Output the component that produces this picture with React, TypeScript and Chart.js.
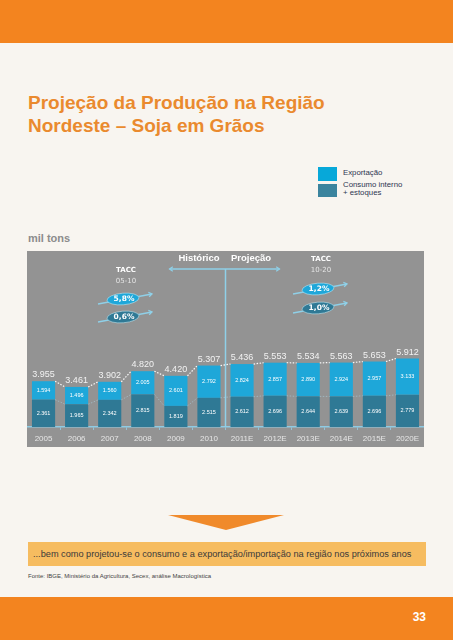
import React, { useEffect, useRef } from "react";
import { Chart, registerables } from "chart.js";

Chart.register(...registerables);

const categories = ["2005", "2006", "2007", "2008", "2009", "2010", "2011E", "2012E", "2013E", "2014E", "2015E", "2020E"];
const consumoInterno = [2361, 1965, 2342, 2815, 1819, 2515, 2612, 2696, 2644, 2639, 2696, 2779];
const exportacao = [1594, 1496, 1560, 2005, 2601, 2792, 2824, 2857, 2890, 2924, 2957, 3133];
const totais = [3955, 3461, 3902, 4820, 4420, 5307, 5436, 5553, 5534, 5563, 5653, 5912];
const taccHistLabel = ["TACC", "05-10"];
const taccHist = ["5,8%", "0,6%"];
const taccProjLabel = ["TACC", "10-20"];
const taccProj = ["1,2%", "1,0%"];
const periodLabels = ["Histórico", "Projeção"];

const LIGHT = "#1ea7d9";
const DARK = "#2f7995";
const ARROW = "#8fd0e8";

const fmt = (v: number) => String(v).replace(/\B(?=(\d{3})+(?!\d))/g, ".");

function arrowHead(ctx: CanvasRenderingContext2D, x: number, y: number, ang: number, len = 4) {
  ctx.beginPath();
  ctx.moveTo(x - len * Math.cos(ang - 0.6), y - len * Math.sin(ang - 0.6));
  ctx.lineTo(x, y);
  ctx.lineTo(x - len * Math.cos(ang + 0.6), y - len * Math.sin(ang + 0.6));
  ctx.stroke();
}

function taccGroup(ctx: CanvasRenderingContext2D, cx: number, y0: number, labels: string[], vals: string[], e1y: number, e2y: number) {
  ctx.textAlign = "center";
  ctx.textBaseline = "middle";
  ctx.fillStyle = "#ffffff";
  ctx.font = 'bold 7px "DejaVu Sans"';
  ctx.fillText(labels[0], cx, y0);
  ctx.fillStyle = "#e4e4e4";
  ctx.font = '7px "DejaVu Sans"';
  ctx.fillText(labels[1], cx, y0 + 11);
  const fills = [LIGHT, DARK];
  [e1y, e2y].forEach((ey, k) => {
    const ex = cx - 3;
    ctx.strokeStyle = ARROW;
    ctx.lineWidth = 1.3;
    ctx.beginPath();
    ctx.moveTo(ex - 25, ey + 5);
    ctx.lineTo(ex + 29, ey - 5);
    ctx.stroke();
    arrowHead(ctx, ex + 29, ey - 5, Math.atan2(-10, 54), 4);
    ctx.beginPath();
    ctx.ellipse(ex, ey, 16, 5.8, -0.08, 0, Math.PI * 2);
    ctx.fillStyle = fills[k];
    ctx.fill();
    ctx.strokeStyle = "rgba(200,235,245,0.7)";
    ctx.lineWidth = 0.8;
    ctx.stroke();
    ctx.fillStyle = "#ffffff";
    ctx.font = 'bold 7.5px "DejaVu Sans"';
    ctx.fillText(vals[k], ex + 1, ey + 0.5);
  });
}

const annotations = {
  id: "annotations",
  beforeDatasetsDraw(chart: any) {
    const ctx: CanvasRenderingContext2D = chart.ctx;
    const m0 = chart.getDatasetMeta(0).data;
    const area = chart.chartArea;
    const lineX = (m0[5].x + m0[6].x) / 2;
    const ay = area.top + 18;
    ctx.save();
    ctx.strokeStyle = ARROW;
    ctx.lineWidth = 1.5;
    ctx.beginPath();
    ctx.moveTo(lineX, ay);
    ctx.lineTo(lineX, area.bottom);
    ctx.moveTo(lineX - 56, ay);
    ctx.lineTo(lineX + 54, ay);
    ctx.stroke();
    ctx.lineWidth = 1.2;
    arrowHead(ctx, lineX - 56, ay, Math.PI, 4);
    arrowHead(ctx, lineX + 54, ay, 0, 4);
    ctx.fillStyle = "#ffffff";
    ctx.font = 'bold 9.5px "Liberation Sans", Arial, sans-serif';
    ctx.textAlign = "center";
    ctx.textBaseline = "middle";
    ctx.fillText(periodLabels[0], lineX - 26.5, area.top + 7.5);
    ctx.fillText(periodLabels[1], lineX + 25.5, area.top + 7.5);

    taccGroup(ctx, area.left + 99, area.top + 19, taccHistLabel, taccHist, area.top + 48, area.top + 66);
    taccGroup(ctx, area.left + 294, area.top + 8, taccProjLabel, taccProj, area.top + 38, area.top + 57);
    ctx.restore();
  },
  afterDatasetsDraw(chart: any) {
    const ctx: CanvasRenderingContext2D = chart.ctx;
    const m0 = chart.getDatasetMeta(0).data;
    const m1 = chart.getDatasetMeta(1).data;
    ctx.save();
    ctx.setLineDash([1.5, 1.5]);
    for (let i = 0; i < m1.length - 1; i++) {
      const a = m1[i], b = m1[i + 1];
      ctx.strokeStyle = "rgba(255,255,255,0.95)";
      ctx.lineWidth = 1.2;
      ctx.beginPath();
      ctx.moveTo(a.x + a.width / 2, a.y);
      ctx.lineTo(b.x - b.width / 2, b.y);
      ctx.stroke();
      const c = m0[i], d = m0[i + 1];
      ctx.strokeStyle = "rgba(170,210,225,0.55)";
      ctx.lineWidth = 1;
      ctx.beginPath();
      ctx.moveTo(c.x + c.width / 2, c.y);
      ctx.lineTo(d.x - d.width / 2, d.y);
      ctx.stroke();
    }
    ctx.setLineDash([]);
    ctx.textAlign = "center";
    ctx.textBaseline = "middle";
    for (let i = 0; i < m1.length; i++) {
      const a = m1[i], c = m0[i];
      ctx.fillStyle = "#f2f2f2";
      ctx.font = '9px "Liberation Sans", Arial, sans-serif';
      ctx.fillText(fmt(totais[i]), a.x, a.y - 6.5);
      ctx.fillStyle = "#ffffff";
      ctx.font = '5.5px "Liberation Sans", Arial, sans-serif';
      ctx.fillText(fmt(exportacao[i]), a.x, (a.y + a.base) / 2);
      ctx.fillText(fmt(consumoInterno[i]), c.x, (c.y + c.base) / 2);
    }
    ctx.restore();
  },
};

export default function App() {
  const ref = useRef<HTMLCanvasElement>(null);
  useEffect(() => {
    const chart = new Chart(ref.current as HTMLCanvasElement, {
      type: "bar",
      data: {
        labels: categories,
        datasets: [
          { label: "Consumo interno + estoques", data: consumoInterno, backgroundColor: DARK, borderWidth: 0 },
          { label: "Exportação", data: exportacao, backgroundColor: LIGHT, borderWidth: 0 },
        ],
      },
      options: {
        animation: false,
        responsive: true,
        maintainAspectRatio: false,
        layout: { padding: 0 },
        datasets: { bar: { categoryPercentage: 1, barPercentage: 0.7 } },
        plugins: { legend: { display: false }, tooltip: { enabled: false }, title: { display: false } },
        scales: {
          x: {
            stacked: true,
            grid: { display: true, drawOnChartArea: false, drawTicks: true, tickLength: 3, color: "rgba(150,205,230,0.8)", offset: true },
            border: { display: true, color: "#8fcbe3", width: 1.5 },
            ticks: { color: "#e6e6e6", font: { family: '"Liberation Sans", Arial, sans-serif', size: 8, lineHeight: 1.2 }, padding: 4.2, maxRotation: 0, autoSkip: false },
          },
          y: { stacked: true, display: false, min: 0, max: 15200 },
        },
      },
      plugins: [annotations],
    });
    return () => chart.destroy();
  }, []);

  const font = '"Liberation Sans", Arial, sans-serif';
  return (
    <div style={{ position: "absolute", left: 0, top: 0, width: 453, height: 640, background: "#f8f5f0", overflow: "hidden", fontFamily: font }}>
      <div style={{ position: "absolute", left: 0, top: 0, width: 453, height: 43, background: "#f3841f" }} />
      <div style={{ position: "absolute", left: 28, top: 90.5, fontSize: 19, lineHeight: "23px", fontWeight: "bold", color: "#ea8a2e", whiteSpace: "nowrap" }}>
        Projeção da Produção na Região
        <br />
        Nordeste – Soja em Grãos
      </div>
      <div style={{ position: "absolute", left: 318, top: 167, width: 19, height: 14, background: "#07a8d9" }} />
      <div style={{ position: "absolute", left: 318, top: 183.5, width: 19, height: 13.5, background: "#3b849e" }} />
      <div style={{ position: "absolute", left: 343, top: 168, fontSize: 7.8, lineHeight: "9px", color: "#2e3550", whiteSpace: "nowrap" }}>Exportação</div>
      <div style={{ position: "absolute", left: 343, top: 180.8, fontSize: 7.8, lineHeight: "8.3px", color: "#2e3550", whiteSpace: "nowrap" }}>
        Consumo interno
        <br />+ estoques
      </div>
      <div style={{ position: "absolute", left: 28, top: 231.7, fontSize: 11, lineHeight: "13px", fontWeight: "bold", color: "#8c8c8c" }}>mil tons</div>
      <div style={{ position: "absolute", left: 27, top: 251, width: 397, height: 196, background: "#939393" }} />
      <div style={{ position: "absolute", left: 27, top: 251, width: 397, height: 197 }}>
        <canvas ref={ref} />
      </div>
      <div style={{ position: "absolute", left: 168, top: 515, width: 0, height: 0, borderLeft: "58px solid transparent", borderRight: "58px solid transparent", borderTop: "15px solid #f08a2b" }} />
      <div style={{ position: "absolute", left: 28, top: 542, width: 398, height: 24, background: "#f6bc60" }} />
      <div style={{ position: "absolute", left: 33, top: 542, height: 24, lineHeight: "24px", fontSize: 9.2, color: "#3a3a3a", whiteSpace: "nowrap" }}>
        ...bem como projetou-se o consumo e a exportação/importação na região nos próximos anos
      </div>
      <div style={{ position: "absolute", left: 28, top: 572, fontSize: 6, lineHeight: "8px", color: "#444", whiteSpace: "nowrap" }}>
        Fonte: IBGE, Ministério da Agricultura, Secex, análise Macrologística
      </div>
      <div style={{ position: "absolute", left: 0, top: 597, width: 453, height: 43, background: "#f3841f" }} />
      <div style={{ position: "absolute", right: 27, top: 610, fontSize: 12, lineHeight: "14px", fontWeight: "bold", color: "#ffffff" }}>33</div>
    </div>
  );
}
